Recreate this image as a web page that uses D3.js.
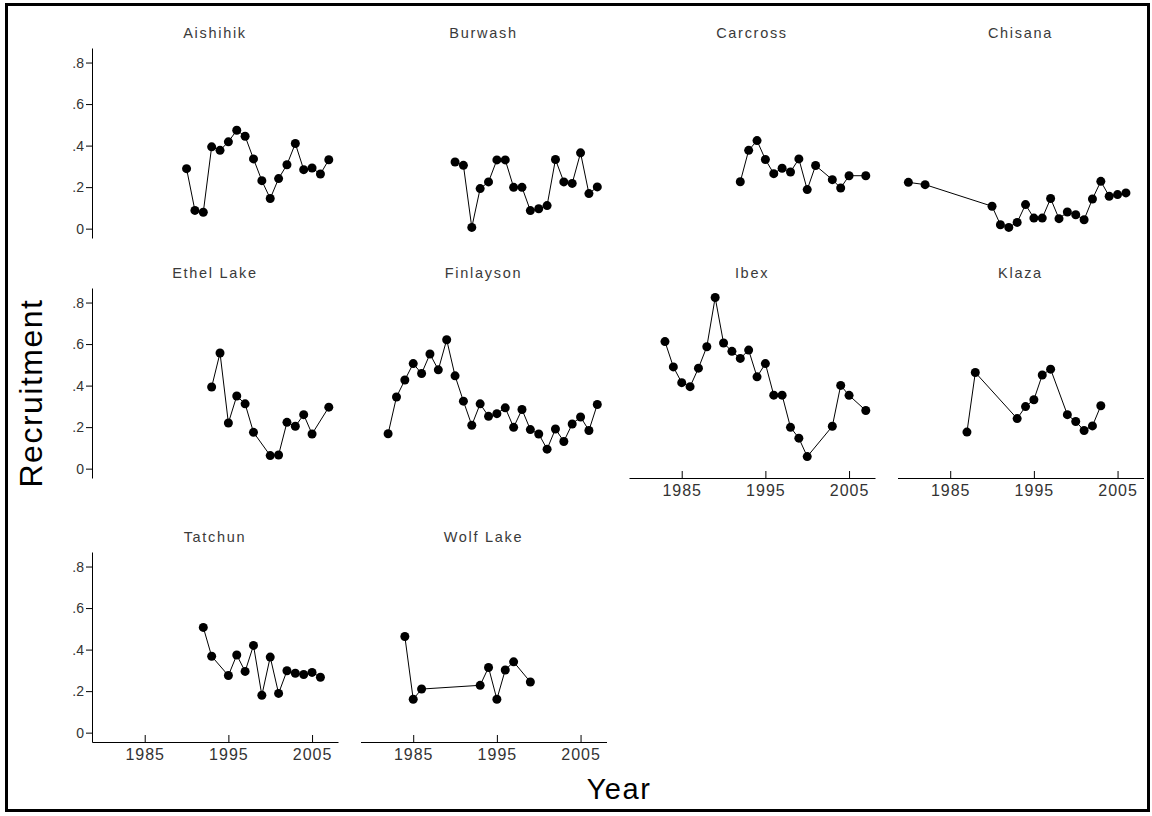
<!DOCTYPE html>
<html>
<head>
<meta charset="utf-8">
<script src="https://cdn.jsdelivr.net/npm/d3@7"></script>
<style>
  body { margin: 0; background: #fff; }
  svg { display: block; font-family: "Liberation Sans", Arial, sans-serif; }
</style>
</head>
<body>
<div id="chart"></div>
<script>
// recruitment by site
const aishihikYears = [1990, 1991, 1992, 1993, 1994, 1995, 1996, 1997, 1998, 1999, 2000, 2001, 2002, 2003, 2004, 2005, 2006, 2007];
const aishihikVals  = [0.289, 0.088, 0.079, 0.394, 0.377, 0.418, 0.474, 0.445, 0.336, 0.231, 0.145, 0.241, 0.308, 0.410, 0.284, 0.292, 0.263, 0.332];

const burwashYears = [1990, 1991, 1992, 1993, 1994, 1995, 1996, 1997, 1998, 1999, 2000, 2001, 2002, 2003, 2004, 2005, 2006, 2007];
const burwashVals  = [0.321, 0.305, 0.006, 0.193, 0.225, 0.331, 0.331, 0.199, 0.199, 0.087, 0.096, 0.111, 0.333, 0.225, 0.218, 0.365, 0.169, 0.201];

const carcrossYears = [1992, 1993, 1994, 1995, 1996, 1997, 1998, 1999, 2000, 2001, 2003, 2004, 2005, 2007];
const carcrossVals  = [0.226, 0.377, 0.424, 0.333, 0.265, 0.291, 0.273, 0.336, 0.188, 0.304, 0.236, 0.196, 0.255, 0.255];

const chisanaYears = [1980, 1982, 1990, 1991, 1992, 1993, 1994, 1995, 1996, 1997, 1998, 1999, 2000, 2001, 2002, 2003, 2004, 2005, 2006];
const chisanaVals  = [0.223, 0.212, 0.108, 0.019, 0.006, 0.030, 0.116, 0.051, 0.051, 0.145, 0.048, 0.080, 0.067, 0.043, 0.143, 0.228, 0.156, 0.164, 0.172];

const ethelYears = [1993, 1994, 1995, 1996, 1997, 1998, 2000, 2001, 2002, 2003, 2004, 2005, 2007];
const ethelVals  = [0.393, 0.557, 0.220, 0.350, 0.312, 0.175, 0.063, 0.066, 0.223, 0.204, 0.260, 0.167, 0.296];

const finlaysonYears = [1982, 1983, 1984, 1985, 1986, 1987, 1988, 1989, 1990, 1991, 1992, 1993, 1994, 1995, 1996, 1997, 1998, 1999, 2000, 2001, 2002, 2003, 2004, 2005, 2006, 2007];
const finlaysonVals  = [0.168, 0.345, 0.427, 0.506, 0.458, 0.552, 0.476, 0.621, 0.447, 0.325, 0.209, 0.312, 0.252, 0.265, 0.293, 0.199, 0.285, 0.188, 0.167, 0.094, 0.191, 0.131, 0.215, 0.249, 0.184, 0.309];

const ibexYears = [1983, 1984, 1985, 1986, 1987, 1988, 1989, 1990, 1991, 1992, 1993, 1994, 1995, 1996, 1997, 1998, 1999, 2000, 2003, 2004, 2005, 2007];
const ibexVals  = [0.612, 0.490, 0.414, 0.395, 0.484, 0.587, 0.824, 0.605, 0.565, 0.531, 0.571, 0.442, 0.506, 0.354, 0.354, 0.199, 0.147, 0.058, 0.204, 0.401, 0.353, 0.280];

const klazaYears = [1987, 1988, 1993, 1994, 1995, 1996, 1997, 1999, 2000, 2001, 2002, 2003];
const klazaVals  = [0.176, 0.463, 0.241, 0.299, 0.332, 0.451, 0.479, 0.260, 0.227, 0.184, 0.206, 0.303];

const tatchunYears = [1992, 1993, 1995, 1996, 1997, 1998, 1999, 2000, 2001, 2002, 2003, 2004, 2005, 2006];
const tatchunVals  = [0.507, 0.368, 0.275, 0.374, 0.295, 0.420, 0.180, 0.364, 0.189, 0.298, 0.286, 0.280, 0.290, 0.267];

const wolfYears = [1984, 1985, 1986, 1993, 1994, 1995, 1996, 1997, 1999];
const wolfVals  = [0.463, 0.161, 0.210, 0.228, 0.314, 0.161, 0.302, 0.341, 0.244];

const siteNames = ['Aishihik', 'Burwash', 'Carcross', 'Chisana', 'Ethel Lake', 'Finlayson', 'Ibex', 'Klaza', 'Tatchun', 'Wolf Lake'];
const siteYears = [aishihikYears, burwashYears, carcrossYears, chisanaYears, ethelYears, finlaysonYears, ibexYears, klazaYears, tatchunYears, wolfYears];
const siteVals  = [aishihikVals, burwashVals, carcrossVals, chisanaVals, ethelVals, finlaysonVals, ibexVals, klazaVals, tatchunVals, wolfVals];

const yTicks = [0, 0.2, 0.4, 0.6, 0.8];
const yTickLabels = ['0', '.2', '.4', '.6', '.8'];
const xTicks = [1985, 1995, 2005];

const width = 1152, height = 816;
const ncol = 4;
const colLeft = 92, colStep = 268.5;
const rowTops = [48, 288, 552];
const pw = 246, ph = 190;

const svg = d3.select('#chart')
    .append('svg')
    .attr('width', width)
    .attr('height', height);

svg.append('rect')
    .attr('width', width)
    .attr('height', height)
    .attr('fill', '#fff');

// outer frame
svg.append('rect')
    .attr('x', 6.5)
    .attr('y', 4.5)
    .attr('width', 1142)
    .attr('height', 806)
    .attr('fill', 'none')
    .attr('stroke', '#000')
    .attr('stroke-width', 3);

const x = d3.scaleLinear().domain([1978.7, 2008.1]).range([0, pw]);
const y = d3.scaleLinear().domain([-0.045, 0.87]).range([ph, 0]);

const line = d3.line()
    .x(d => x(d[0]))
    .y(d => y(d[1]));

siteNames.forEach(function(name, i) {
    const col = i % ncol;
    const row = Math.floor(i / ncol);
    const g = svg.append('g')
        .attr('transform', `translate(${colLeft + col * colStep},${rowTops[row]})`);

    const pts = siteYears[i].map((yr, k) => [yr, siteVals[i][k]]);

    // title
    g.append('text')
        .attr('x', pw / 2)
        .attr('y', -10)
        .attr('text-anchor', 'middle')
        .style('font-size', '14.5px')
        .style('letter-spacing', '1.7px')
        .attr('fill', '#3a3a3a')
        .text(name);

    // y axis on first column only
    if (col === 0) {
        const ya = g.append('g')
            .call(d3.axisLeft(y)
                .tickValues(yTicks)
                .tickFormat((d, k) => yTickLabels[k])
                .tickSizeInner(6)
                .tickSizeOuter(0)
                .tickPadding(2));
        ya.selectAll('text')
            .style('font-size', '14px')
            .style('font-family', '"Liberation Sans", Arial, sans-serif')
            .attr('fill', '#333');
        ya.selectAll('line, path').attr('stroke', '#000');
    }

    // x axis where nothing sits below
    const below = i + ncol;
    if (below >= siteNames.length) {
        const xa = g.append('g')
            .attr('transform', `translate(0,${ph})`)
            .call(d3.axisBottom(x)
                .tickValues(xTicks)
                .tickFormat(d3.format('d'))
                .tickSizeInner(-7)
                .tickSizeOuter(0)
                .tickPadding(7));
        xa.selectAll('text')
            .style('font-size', '16px')
            .style('letter-spacing', '1px')
            .style('font-family', '"Liberation Sans", Arial, sans-serif')
            .attr('fill', '#333');
        xa.selectAll('line, path').attr('stroke', '#000');
    }

    g.append('path')
        .datum(pts)
        .attr('fill', 'none')
        .attr('stroke', '#000')
        .attr('stroke-width', 1)
        .attr('d', line);

    g.selectAll('circle')
        .data(pts)
        .enter()
        .append('circle')
        .attr('cx', d => x(d[0]))
        .attr('cy', d => y(d[1]))
        .attr('r', 4.5)
        .attr('fill', '#000');
});

// axis titles
svg.append('text')
    .attr('transform', 'translate(42,393) rotate(-90)')
    .attr('text-anchor', 'middle')
    .style('font-size', '32px')
    .style('letter-spacing', '1.5px')
    .text('Recruitment');

svg.append('text')
    .attr('x', 619)
    .attr('y', 799)
    .attr('text-anchor', 'middle')
    .style('font-size', '29px')
    .style('letter-spacing', '1.5px')
    .text('Year');
</script>
</body>
</html>
